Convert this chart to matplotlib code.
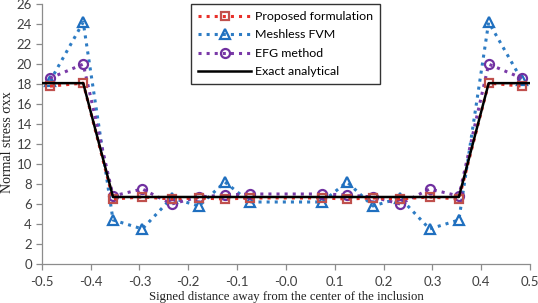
import numpy as np
import matplotlib.pyplot as plt

# node positions along the line through the inclusion
x_nodes = [-0.483, -0.415, -0.354, -0.294, -0.234, -0.178, -0.125, -0.074,
           0.074, 0.125, 0.178, 0.234, 0.294, 0.354, 0.415, 0.483]

proposed = [17.8, 18.1, 6.5, 6.7, 6.5, 6.6, 6.5, 6.6,
            6.6, 6.5, 6.6, 6.5, 6.7, 6.5, 18.1, 17.8]
meshless_fvm = [18.3, 24.2, 4.4, 3.5, 6.6, 5.8, 8.2, 6.2,
                6.2, 8.2, 5.8, 6.6, 3.5, 4.4, 24.2, 18.4]
efg = [18.6, 20.0, 6.8, 7.5, 6.0, 6.7, 6.9, 7.0,
       7.0, 6.9, 6.7, 6.0, 7.5, 6.8, 20.0, 18.6]

x_exact = [-0.5, -0.415, -0.354, 0.354, 0.415, 0.5]
exact = [18.1, 18.1, 6.7, 6.7, 18.1, 18.1]

x_ticks = np.arange(-0.5, 0.51, 0.1)
y_ticks = np.arange(0, 27, 2)

tick_font = 'Lato'
label_font = 'Liberation Serif'

fig = plt.figure(figsize=(5.38, 3.03), dpi=100)
ax = fig.add_axes([0.0775, 0.129, 0.908, 0.857])

ax.plot(x_nodes, proposed, linestyle=':', color='#e8302a', linewidth=2.2,
        marker='s', markersize=6, markerfacecolor='none',
        markeredgecolor='#c0504d', markeredgewidth=1.6,
        label='Proposed formulation', zorder=4)
ax.plot(x_nodes, meshless_fvm, linestyle=':', color='#2e7cc4', linewidth=2.2,
        marker='^', markersize=7, markerfacecolor='none',
        markeredgecolor='#1f6fbf', markeredgewidth=1.6,
        label='Meshless FVM', zorder=3)
ax.plot(x_nodes, efg, linestyle=':', color='#7a3aa8', linewidth=2.2,
        marker='o', markersize=6.5, markerfacecolor='none',
        markeredgecolor='#7030a0', markeredgewidth=1.6,
        label='EFG method', zorder=3)
ax.plot(x_exact, exact, color='black', linewidth=1.8,
        label='Exact analytical', zorder=5)

ax.set_xlim(-0.5, 0.5)
ax.set_ylim(0, 26)
ax.set_xticks(x_ticks)
ax.set_yticks(y_ticks)
ax.set_xticklabels([f'{v:.1f}' for v in x_ticks], fontsize=9.5,
                   family=tick_font, color='#404040')
ax.set_yticklabels([str(v) for v in y_ticks], fontsize=9.5,
                   family=tick_font, color='#404040')

for side in ['top', 'right']:
    ax.spines[side].set_visible(False)
for side in ['left', 'bottom']:
    ax.spines[side].set_color('#8c8c8c')
    ax.spines[side].set_linewidth(0.9)
ax.tick_params(axis='x', length=4, width=0.9, color='#8c8c8c', pad=5)
ax.tick_params(axis='y', length=4, width=0.9, color='#8c8c8c', pad=3)

ax.set_xlabel('Signed distance away from the center of the inclusion',
              fontsize=9.2, family=label_font, color='#202020', labelpad=2)
ax.set_ylabel('Normal stress σxx', fontsize=10, family=label_font,
              color='#202020')
ax.yaxis.set_label_coords(-0.057, 0.47)

leg = ax.legend(loc='upper left', bbox_to_anchor=(0.306, 1.0),
                borderaxespad=0.0,
                prop={'family': tick_font, 'size': 8.9}, frameon=True,
                fancybox=False, handlelength=4.3, handletextpad=0.3,
                borderpad=0.55, labelspacing=0.6)
leg.get_frame().set_edgecolor('black')
leg.get_frame().set_linewidth(1.0)

fig.savefig('out.png', dpi=100)
